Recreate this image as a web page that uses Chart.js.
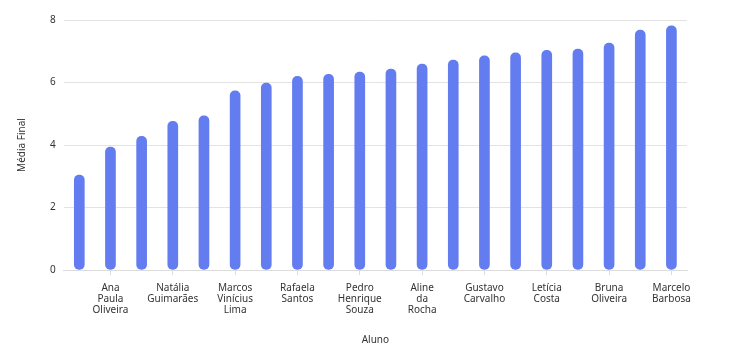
<!DOCTYPE html>
<html>
<head>
<meta charset="utf-8">
<script src="https://cdn.jsdelivr.net/npm/chart.js@4/dist/chart.umd.min.js"></script>
<style>
  html, body { margin: 0; padding: 0; background: #fff; }
  #wrap { width: 729px; height: 350px; position: relative; }
</style>
</head>
<body>
<div id="wrap"><canvas id="chart"></canvas></div>
<script>
// Alunos ordenados pela média final
const alunos = [
    'João Pereira', 'Ana Paula Oliveira', 'Lucas Mendes', 'Natália Guimarães',
    'Felipe Araújo', 'Marcos Vinícius Lima', 'Camila Ribeiro', 'Rafaela Santos',
    'Thiago Alves', 'Pedro Henrique Souza', 'Juliana Martins', 'Aline da Rocha',
    'Rodrigo Nunes', 'Gustavo Carvalho', 'Beatriz Lopes', 'Letícia Costa',
    'Eduardo Ferreira', 'Bruna Oliveira', 'Mariana Silva', 'Marcelo Barbosa'
];
const mediaFinal = [
    3.04, 3.93, 4.28, 4.76, 4.93, 5.73, 5.98, 6.2, 6.26, 6.33,
    6.43, 6.59, 6.72, 6.85, 6.95, 7.03, 7.07, 7.26, 7.68, 7.81
];
const yTicks = [0, 2, 4, 6, 8];

const axisFont = { family: "'Noto Sans', 'Open Sans', sans-serif", size: 10, lineHeight: 1.1 };
const textColor = '#333';

new Chart(document.getElementById('chart'), {
    type: 'bar',
    data: {
        labels: alunos,
        datasets: [{
            label: 'Média Final',
            data: mediaFinal,
            backgroundColor: '#637cf0',
            borderWidth: 0,
            borderRadius: 5,
            borderSkipped: false,
            barThickness: 10
        }]
    },
    options: {
        responsive: true,
        maintainAspectRatio: false,
        animation: false,
        layout: { padding: { top: 20, right: 42, bottom: 0, left: 13 } },
        plugins: {
            legend: { display: false },
            tooltip: { enabled: false }
        },
        scales: {
            x: {
                // só um nome a cada dois, como no original
                afterBuildTicks: (scale) => {
                    scale.ticks = scale.ticks.filter((t) => t.value % 2 === 1);
                },
                ticks: {
                    autoSkip: false,
                    maxRotation: 0,
                    color: textColor,
                    font: axisFont,
                    padding: 8,
                    callback: function (v) { return this.getLabelForValue(v).split(' '); }
                },
                grid: {
                    offset: false,
                    drawOnChartArea: false,
                    drawTicks: true,
                    tickLength: 5,
                    color: '#dcdcdc'
                },
                border: { display: true, color: '#dcdcdc', width: 1 },
                title: {
                    display: true,
                    text: 'Aluno',
                    color: textColor,
                    font: axisFont,
                    padding: { top: 11 }
                }
            },
            y: {
                min: 0,
                max: 8,
                afterBuildTicks: (scale) => {
                    scale.ticks = yTicks.map((v) => ({ value: v }));
                },
                ticks: {
                    color: textColor,
                    font: axisFont,
                    padding: 8
                },
                grid: {
                    color: '#e3e3e3',
                    lineWidth: 1,
                    drawTicks: false
                },
                border: { display: false },
                title: {
                    display: true,
                    text: 'Média Final',
                    color: textColor,
                    font: axisFont,
                    padding: { bottom: 14 }
                }
            }
        }
    }
});
</script>
</body>
</html>
